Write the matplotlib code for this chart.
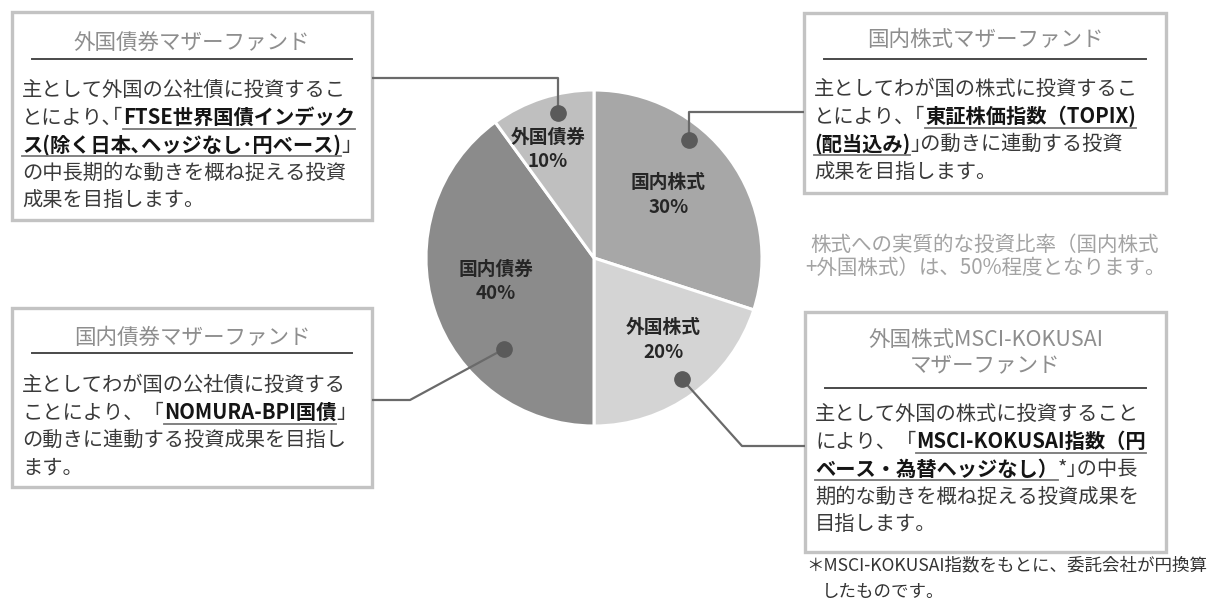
import numpy as np
import matplotlib
matplotlib.use("Agg")
import matplotlib.pyplot as plt
from matplotlib.patches import Rectangle

plt.rcParams['font.family'] = ['Noto Sans CJK JP', 'DejaVu Sans']

# ---------------- data ----------------
categories = ['国内株式', '外国株式', '国内債券', '外国債券']
shares = [30, 20, 40, 10]
slice_colors = ['#a7a7a7', '#d4d4d4', '#8b8b8b', '#bfbfbf']

fund_titles = [
    '外国債券マザーファンド',
    '国内株式マザーファンド',
    '国内債券マザーファンド',
    '外国株式MSCI-KOKUSAI\nマザーファンド',
]
fund_bodies = [
    ['主として外国の公社債に投資するこ',
     'とにより､｢**FTSE世界国債インデック**',
     '**ス(除く日本､ヘッジなし･円ベース)**｣',
     'の中長期的な動きを概ね捉える投資',
     '成果を目指します。'],
    ['主としてわが国の株式に投資するこ',
     'とにより、｢**東証株価指数（TOPIX)**',
     '**(配当込み)**｣の動きに連動する投資',
     '成果を目指します。'],
    ['主としてわが国の公社債に投資する',
     'ことにより、「**NOMURA-BPI国債**」',
     'の動きに連動する投資成果を目指し',
     'ます。'],
    ['主として外国の株式に投資すること',
     'により、「**MSCI-KOKUSAI指数（円**',
     '**ベース・為替ヘッジなし）***｣の中長',
     '期的な動きを概ね捉える投資成果を',
     '目指します。'],
]
note_lines = ['株式への実質的な投資比率（国内株式',
              '+外国株式）は、50%程度となります。']
footnote_lines = ['＊MSCI-KOKUSAI指数をもとに、委託会社が円換算',
                  'したものです。']

# ---------------- layout (pixels, y from top) ----------------
W, H = 1225, 612
pie_center = (594, 258)
pie_radius = 168
# label position inside wedge: (fraction along wedge angle, radius fraction)
label_pos = {'国内株式': (0.54, 0.58), '外国株式': (0.56, 0.64),
             '国内債券': (0.47, 0.60), '外国債券': (0.64, 0.70)}
dot_pos = {'国内株式': (0.64, 0.90), '外国株式': (0.50, 0.89),
           '国内債券': (0.69, 0.76), '外国債券': (0.39, 0.89)}
box_for = {'外国債券': 0, '国内株式': 1, '国内債券': 2, '外国株式': 3}
boxes = [(12, 12, 372, 220), (804, 13, 1166, 193),
         (12, 308, 372, 487), (805, 312, 1166, 552)]
title_y = [[40], [38], [335], [338, 363]]
rule_y = [59, 59, 353, 388]
body_y0 = [88, 87, 383, 412]
body_step = 27.5
leader_bends = {'外国債券': ['dotx', 78, 372, 78],
                '国内株式': ['dotx', 112, 804, 112],
                '国内債券': [410, 400, 372, 400],
                '外国株式': [742, 446, 805, 446]}

fig = plt.figure(figsize=(W / 100, H / 100), dpi=100)
ax = fig.add_axes([0, 0, 1, 1])


def Y(y):
    return H - y


wedges, _ = ax.pie(shares, colors=slice_colors, startangle=90, counterclock=False,
                   center=(pie_center[0], Y(pie_center[1])), radius=pie_radius,
                   wedgeprops=dict(edgecolor='white', linewidth=2.2))
ax.set_xlim(0, W)
ax.set_ylim(0, H)
ax.set_aspect('auto')
ax.axis('off')
renderer = fig.canvas.get_renderer()


def wedge_point(w, frac, rfrac):
    ang = np.deg2rad(w.theta1 + frac * (w.theta2 - w.theta1))
    cx, cy = w.center
    return cx + rfrac * w.r * np.cos(ang), cy + rfrac * w.r * np.sin(ang)


leader_color = '#6a6a6a'
for cat, share, w in zip(categories, shares, wedges):
    lx, ly = wedge_point(w, *label_pos[cat])
    ax.text(lx, ly, f'{cat}\n{share}%', ha='center', va='center', fontsize=13.5,
            fontweight='bold', color='#262626', linespacing=1.35, zorder=5)
    dx, dy = wedge_point(w, *dot_pos[cat])
    b = leader_bends[cat]
    bx = dx if b[0] == 'dotx' else b[0]
    ax.plot([dx, bx, b[2]], [dy, Y(b[1]), Y(b[3])], color=leader_color, lw=1.6,
            zorder=6, solid_capstyle='butt')
    ax.plot([dx], [dy], 'o', ms=11, color='#5a5a5a', zorder=7)


def rich_line(x, y, s, size=14.6):
    parts = s.split('**')
    cx = x
    for i, p in enumerate(parts):
        if not p:
            continue
        bold = (i % 2 == 1)
        t = ax.text(cx, Y(y), p, fontsize=size,
                    fontweight='bold' if bold else 'normal',
                    color='#151515' if bold else '#3a3a3a',
                    ha='left', va='center_baseline', zorder=5)
        wpx = t.get_window_extent(renderer).width
        if bold:
            ax.plot([cx, cx + wpx], [Y(y + 13)] * 2, color='#777777', lw=1.3, zorder=5)
        cx += wpx


for cat in categories:
    k = box_for[cat]
    x0, y0, x1, y1 = boxes[k]
    ax.add_patch(Rectangle((x0, Y(y1)), x1 - x0, y1 - y0, fill=True, facecolor='white',
                           edgecolor='#c3c3c3', lw=2.4, zorder=3))
    xc = (x0 + x1) / 2
    for ty, tl in zip(title_y[k], fund_titles[k].split('\n')):
        ax.text(xc, Y(ty), tl, ha='center', va='center_baseline', fontsize=15.5,
                color='#8e8e8e', zorder=5)
    ax.plot([x0 + 20, x1 - 20], [Y(rule_y[k])] * 2, color='#4a4a4a', lw=1.4, zorder=5)
    for j, line in enumerate(fund_bodies[k]):
        rich_line(x0 + 10, body_y0[k] + j * body_step, line)

for j, line in enumerate(note_lines):
    ax.text(985, Y(242 + j * 24), line, ha='center', va='center_baseline', fontsize=14.8,
            color='#a3a3a3')

ax.text(806, Y(563), footnote_lines[0], ha='left', va='center_baseline', fontsize=12.6,
        color='#333333')
ax.text(822, Y(590), footnote_lines[1], ha='left', va='center_baseline', fontsize=12.6,
        color='#333333')

fig.savefig('out.png', dpi=100)
